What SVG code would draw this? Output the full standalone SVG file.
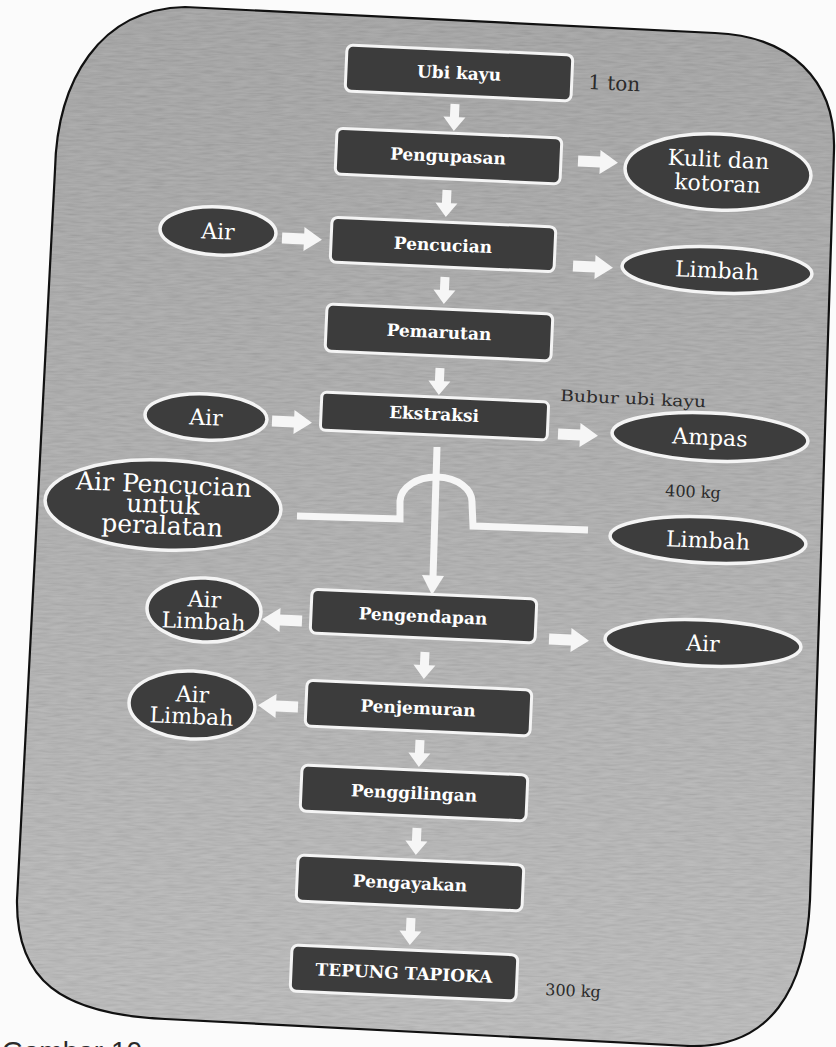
<svg xmlns="http://www.w3.org/2000/svg" xmlns:xlink="http://www.w3.org/1999/xlink" width="836" height="1047" viewBox="0 0 836 1047">
  <style>
    .box { fill: #3c3c3c; stroke: #f4f4f4; stroke-width: 3; }
    .oval { fill: #3d3d3d; stroke: #f4f4f4; stroke-width: 3.5; }
    .bt { font-family: "DejaVu Serif", "Liberation Serif", serif; font-weight: bold; font-size: 17px; fill: #ffffff; text-anchor: middle; }
    .ot { font-family: "DejaVu Serif", "Liberation Serif", serif; font-size: 22px; fill: #ffffff; text-anchor: middle; }
    .lbl { font-family: "DejaVu Serif", "Liberation Serif", serif; font-size: 16px; fill: #2b2b2b; }
    .arrow { fill: #f6f6f6; }
    .pipe { fill: none; stroke: #f6f6f6; stroke-width: 7; stroke-linejoin: miter; }
  </style>
  <defs>
    <!-- block arrows, origin at the tail centre -->
    <path id="arrR" d="M0,-5.5 H22 V-12 L40,0 L22,12 V5.5 H0 Z"/>
    <path id="arrD" d="M-4.5,0 V13 H-11 L0,27 L11,13 H4.5 V0 Z"/>
    <linearGradient id="panelFill" x1="0" y1="0" x2="0" y2="1">
      <stop offset="0" stop-color="#a0a0a0"/>
      <stop offset="0.5" stop-color="#acacac"/>
      <stop offset="1" stop-color="#b9b9b9"/>
    </linearGradient>
    <filter id="grain" x="0" y="0" width="100%" height="100%">
      <feTurbulence type="fractalNoise" baseFrequency="0.06 0.45" numOctaves="2" seed="7"/>
      <feColorMatrix type="matrix" values="0.8 0 0 0 0.1  0.8 0 0 0 0.1  0.8 0 0 0 0.1  0 0 0 0 0.18"/>
    </filter>
    <clipPath id="panelClip">
      <path id="panelShape" d="M185,7 L715,33 C790,36 836,80 834,150 L810,900 C806,990 770,1048 690,1046 L165,1019 C60,1014 16,980 17,900 L55,170 C57,80 100,9 185,7 Z"/>
    </clipPath>
  </defs>

  <!-- page -->
  <rect x="0" y="0" width="836" height="1047" fill="#fbfbfb"/>

  <!-- rounded grey panel -->
  <g id="panel">
    <use xlink:href="#panelShape" fill="url(#panelFill)"/>
    <rect x="0" y="0" width="836" height="1047" filter="url(#grain)" clip-path="url(#panelClip)"/>
    <use xlink:href="#panelShape" fill="none" stroke="#111111" stroke-width="2.2"/>
  </g>

  <!-- connectors -->
  <g id="connectors">
    <!-- downward flow along the main chain -->
    <use xlink:href="#arrD" class="arrow" transform="translate(455,104) rotate(2.5)"/>
    <use xlink:href="#arrD" class="arrow" transform="translate(447,190) rotate(2.5)"/>
    <use xlink:href="#arrD" class="arrow" transform="translate(445,277) rotate(2.5)"/>
    <use xlink:href="#arrD" class="arrow" transform="translate(440,368) rotate(2.5)"/>
    <use xlink:href="#arrD" class="arrow" transform="translate(425,652) rotate(2.5)"/>
    <use xlink:href="#arrD" class="arrow" transform="translate(420,740) rotate(2.5)"/>
    <use xlink:href="#arrD" class="arrow" transform="translate(417,828) rotate(2.5)"/>
    <use xlink:href="#arrD" class="arrow" transform="translate(411,918) rotate(2.5)"/>
    <!-- side inputs and outputs -->
    <use xlink:href="#arrR" class="arrow" transform="translate(578,161) rotate(2.5)"/>
    <use xlink:href="#arrR" class="arrow" transform="translate(282,238) rotate(2.5)"/>
    <use xlink:href="#arrR" class="arrow" transform="translate(573,266) rotate(2.5)"/>
    <use xlink:href="#arrR" class="arrow" transform="translate(272,421) rotate(2.5)"/>
    <use xlink:href="#arrR" class="arrow" transform="translate(558,434) rotate(2.5)"/>
    <use xlink:href="#arrR" class="arrow" transform="translate(302,621) rotate(182.5)"/>
    <use xlink:href="#arrR" class="arrow" transform="translate(549,639) rotate(2.5)"/>
    <use xlink:href="#arrR" class="arrow" transform="translate(298,707) rotate(182.5)"/>
    <!-- extraction slurry down to settling, crossing the wash-water line -->
    <path class="pipe" d="M437,447 L433,578"/>
    <path class="arrow" d="M422,575 L444,576 L432,595 Z"/>
    <path class="pipe" d="M297,516 L400,519 L400,501 A36,25 0 0 1 472,503 L473,526 L588,530"/>
  </g>

  <!-- process steps -->
  <g id="n-ubikayu" transform="translate(459,73) rotate(2.5)">
    <rect class="box" x="-113" y="-23" width="226" height="46" rx="6"/>
    <text class="bt" x="0" y="6">Ubi kayu</text>
  </g>
  <g id="n-pengupasan" transform="translate(448,156) rotate(2.5)">
    <rect class="box" x="-112" y="-23" width="225" height="46" rx="6"/>
    <text class="bt" x="0" y="6">Pengupasan</text>
  </g>
  <g id="n-pencucian" transform="translate(443,245) rotate(2.5)">
    <rect class="box" x="-112" y="-23" width="224" height="45" rx="6"/>
    <text class="bt" x="0" y="6">Pencucian</text>
  </g>
  <g id="n-pemarutan" transform="translate(439,332) rotate(2.5)">
    <rect class="box" x="-113" y="-23" width="226" height="47" rx="6"/>
    <text class="bt" x="0" y="6">Pemarutan</text>
  </g>
  <g id="n-ekstraksi" transform="translate(434,416) rotate(2.5)">
    <rect class="box" x="-113" y="-19" width="227" height="38" rx="5"/>
    <text class="bt" x="0" y="4">Ekstraksi</text>
  </g>
  <g id="n-pengendapan" transform="translate(423,616) rotate(2.5)">
    <rect class="box" x="-112" y="-22" width="225" height="44" rx="6"/>
    <text class="bt" x="0" y="6">Pengendapan</text>
  </g>
  <g id="n-penjemuran" transform="translate(418,708) rotate(2.5)">
    <rect class="box" x="-112" y="-23" width="225" height="46" rx="6"/>
    <text class="bt" x="0" y="6">Penjemuran</text>
  </g>
  <g id="n-penggilingan" transform="translate(414,793) rotate(2.5)">
    <rect class="box" x="-113" y="-23" width="226" height="46" rx="6"/>
    <text class="bt" x="0" y="6">Penggilingan</text>
  </g>
  <g id="n-pengayakan" transform="translate(410,883) rotate(2.5)">
    <rect class="box" x="-113" y="-23" width="226" height="46" rx="6"/>
    <text class="bt" x="0" y="6">Pengayakan</text>
  </g>
  <g id="n-tepung" transform="translate(404,973) rotate(2.5)">
    <rect class="box" x="-113" y="-23" width="226" height="46" rx="6"/>
    <text class="bt" x="0" y="6">TEPUNG TAPIOKA</text>
  </g>

  <!-- inputs and outputs -->
  <g id="o-kulit" transform="translate(718,172) rotate(2.5)">
    <ellipse class="oval" cx="0" cy="0" rx="93" ry="38"/>
    <text class="ot" x="0" y="-5">Kulit dan</text>
    <text class="ot" x="0" y="19">kotoran</text>
  </g>
  <g id="o-air1" transform="translate(218,231) rotate(2.5)">
    <ellipse class="oval" cx="0" cy="0" rx="58" ry="24"/>
    <text class="ot" x="0" y="8">Air</text>
  </g>
  <g id="o-limbah1" transform="translate(717,270) rotate(2.5)">
    <ellipse class="oval" cx="0" cy="0" rx="95" ry="23"/>
    <text class="ot" x="0" y="8">Limbah</text>
  </g>
  <g id="o-air2" transform="translate(206,417) rotate(2.5)">
    <ellipse class="oval" cx="0" cy="0" rx="61" ry="23"/>
    <text class="ot" x="0" y="8">Air</text>
  </g>
  <g id="o-ampas" transform="translate(710,437) rotate(2.5)">
    <ellipse class="oval" cx="0" cy="0" rx="98" ry="24"/>
    <text class="ot" x="0" y="8">Ampas</text>
  </g>
  <g id="o-airpencucian" transform="translate(163,505) rotate(2.5)">
    <ellipse class="oval" cx="0" cy="0" rx="118" ry="45"/>
    <text class="ot" x="0" y="-12" style="font-size:25px">Air Pencucian</text>
    <text class="ot" x="0" y="8" style="font-size:25px">untuk</text>
    <text class="ot" x="0" y="29" style="font-size:25px">peralatan</text>
  </g>
  <g id="o-limbah2" transform="translate(708,540) rotate(2.5)">
    <ellipse class="oval" cx="0" cy="0" rx="98" ry="23"/>
    <text class="ot" x="0" y="8">Limbah</text>
  </g>
  <g id="o-airlimbah1" transform="translate(204,610) rotate(2.5)">
    <ellipse class="oval" cx="0" cy="0" rx="57" ry="32"/>
    <text class="ot" x="0" y="-3">Air</text>
    <text class="ot" x="0" y="19">Limbah</text>
  </g>
  <g id="o-air3" transform="translate(703,643) rotate(2.5)">
    <ellipse class="oval" cx="0" cy="0" rx="98" ry="23"/>
    <text class="ot" x="0" y="8">Air</text>
  </g>
  <g id="o-airlimbah2" transform="translate(192,705) rotate(2.5)">
    <ellipse class="oval" cx="0" cy="0" rx="63" ry="34"/>
    <text class="ot" x="0" y="-3">Air</text>
    <text class="ot" x="0" y="19">Limbah</text>
  </g>

  <!-- quantity notes -->
  <g id="notes">
    <text class="lbl" x="588" y="89" style="font-size:20px" transform="rotate(2.5 588 89)">1 ton</text>
    <text class="lbl" x="560" y="401" textLength="146" lengthAdjust="spacingAndGlyphs" transform="rotate(2.5 560 401)">Bubur ubi kayu</text>
    <text class="lbl" x="665" y="496" transform="rotate(2.5 665 496)">400 kg</text>
    <text class="lbl" x="545" y="995" transform="rotate(2.5 545 995)">300 kg</text>
  </g>

  <!-- caption, cut by the page edge -->
  <text x="2" y="1061" style="font-family:'Liberation Sans', Arial, sans-serif; font-size:28px; fill:#2a2a2a">Gambar 10</text>
</svg>
